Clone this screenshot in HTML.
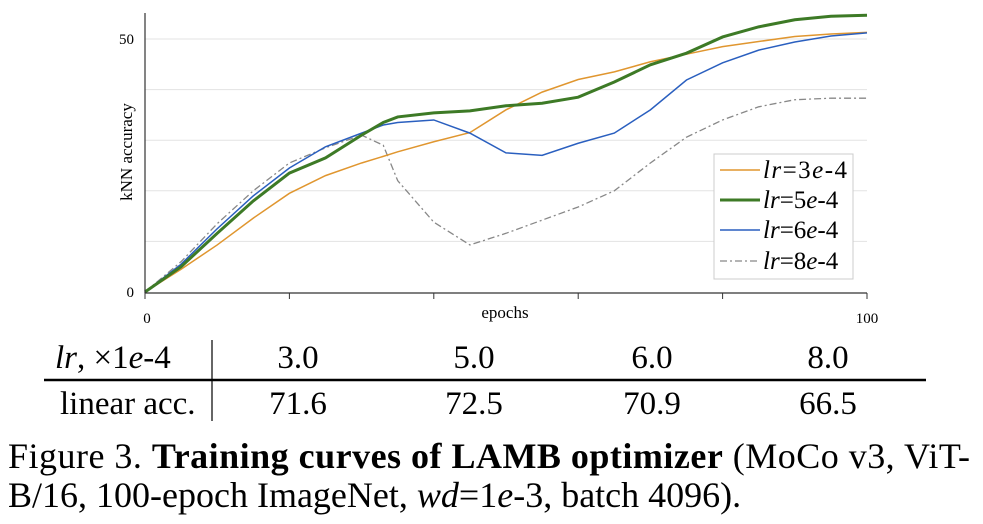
<!DOCTYPE html>
<html><head><meta charset="utf-8"><style>
body{margin:0;background:#fff;width:983px;height:524px;overflow:hidden;font-family:"Liberation Serif",serif}
svg{position:absolute;left:0;top:0}
</style></head><body>
<svg width="983" height="524">
<g id="grid"></g>
<g id="series"></g>
<line x1="145" y1="13" x2="145" y2="293" stroke="#333" stroke-width="1.2"/>
<line x1="145" y1="293" x2="867" y2="293" stroke="#333" stroke-width="1.2"/>
<g id="ticks"></g>
<text x="505" y="318" font-size="17" text-anchor="middle">epochs</text>
<text transform="translate(132,152) rotate(-90)" font-size="17" text-anchor="middle">kNN accuracy</text>
<g>
<rect x="714" y="154" width="139" height="125" fill="#fff" stroke="#ccc"/>
<g><line x1="720" y1="170" x2="760" y2="170" stroke="#e0962f" stroke-width="1.5"/><text x="763" y="178" font-size="25" textLength="84"><tspan font-style="italic">lr</tspan>=3<tspan font-style="italic">e</tspan>-4</text></g>
<g><line x1="720" y1="200" x2="760" y2="200" stroke="#3d7a26" stroke-width="3"/><text x="763" y="208" font-size="25"><tspan font-style="italic">lr</tspan>=5<tspan font-style="italic">e</tspan>-4</text></g>
<g><line x1="720" y1="230" x2="760" y2="230" stroke="#2a5fbf" stroke-width="1.5"/><text x="763" y="238" font-size="25"><tspan font-style="italic">lr</tspan>=6<tspan font-style="italic">e</tspan>-4</text></g>
<g><line x1="720" y1="261" x2="760" y2="261" stroke="#888" stroke-width="1.3" stroke-dasharray="7,3,2,3"/><text x="763" y="269" font-size="25"><tspan font-style="italic">lr</tspan>=8<tspan font-style="italic">e</tspan>-4</text></g>
</g>
<g font-size="33">
<text x="55" y="368"><tspan font-style="italic">lr</tspan>, ×1<tspan font-style="italic">e</tspan>-4</text>
<text x="298" y="368" text-anchor="middle">3.0</text>
<text x="474" y="368" text-anchor="middle">5.0</text>
<text x="652" y="368" text-anchor="middle">6.0</text>
<text x="828" y="368" text-anchor="middle">8.0</text>
<line x1="44" y1="380" x2="926" y2="380" stroke="#000" stroke-width="2.5"/>
<line x1="212" y1="340" x2="212" y2="421" stroke="#000" stroke-width="1.2"/>
<text x="60" y="414">linear acc.</text>
<text x="298" y="414" text-anchor="middle">71.6</text>
<text x="474" y="414" text-anchor="middle">72.5</text>
<text x="652" y="414" text-anchor="middle">70.9</text>
<text x="828" y="414" text-anchor="middle">66.5</text>
</g>
<g font-size="36">
<text x="8" y="468" textLength="962" lengthAdjust="spacing">Figure 3.  <tspan font-weight="bold">Training curves of LAMB optimizer</tspan> (MoCo v3, ViT-</text>
<text x="8" y="507">B/16, 100-epoch ImageNet, <tspan font-style="italic">wd</tspan>=1<tspan font-style="italic">e</tspan>-3, batch 4096).</text>
</g>
</svg>
<script>
const epochs=[0,5,10,15,20,25,30,33,35,40,45,50,55,60,65,70,75,80,85,90,95,100];
const lr3=[0,4.5,9.3,14.6,19.5,23,25.5,26.8,27.7,29.7,31.5,36,39.5,42,43.5,45.5,47,48.5,49.5,50.5,51,51.3];
const lr5=[0,5,11.6,18,23.5,26.5,31,33.5,34.6,35.4,35.8,36.8,37.3,38.5,41.5,44.9,47.2,50.4,52.4,53.8,54.5,54.7];
const lr6=[0,5.5,12.5,19,24.5,28.7,31.4,33,33.5,34,31.4,27.5,27,29.4,31.4,36,41.9,45.3,47.8,49.4,50.6,51.2];
const lr8=[0,6,13.5,20,25.5,28.5,31,29,22,13.8,9.3,11.6,14.2,16.8,20,25.5,30.6,34,36.6,38,38.3,38.3];
const yTicks=[0,10,20,30,40,50];
const xTicks=[0,20,40,60,80,100];
const X=e=>145+e*7.22, Y=v=>292-v*5.06;
const NS="http://www.w3.org/2000/svg";
const grid=document.getElementById('grid'),ticks=document.getElementById('ticks'),ser=document.getElementById('series');
yTicks.forEach(t=>{if(t>0){const l=document.createElementNS(NS,'line');
l.setAttribute('x1',145);l.setAttribute('x2',867);l.setAttribute('y1',Y(t));l.setAttribute('y2',Y(t));l.setAttribute('stroke','#e3e3e3');


grid.appendChild(l);}
if(t===0||t===50){const tx=document.createElementNS(NS,'text');tx.setAttribute('x',134);tx.setAttribute('y',Y(t)+5);tx.setAttribute('text-anchor','end');tx.setAttribute('font-size','15');tx.textContent=t;


ticks.appendChild(tx);}});
xTicks.forEach(t=>{const l=document.createElementNS(NS,'line');l.setAttribute('x1',X(t));l.setAttribute('x2',X(t));l.setAttribute('y1',293);l.setAttribute('y2',299);l.setAttribute('stroke','#333');


ticks.appendChild(l);
if(t===0||t===100){const tx=document.createElementNS(NS,'text');tx.setAttribute('x',X(t)+(t?0:2));tx.setAttribute('y',323);tx.setAttribute('text-anchor','middle');tx.setAttribute('font-size','15');tx.textContent=t;


ticks.appendChild(tx);}});
function line(vals,color,w,dash,name){const p=document.createElementNS(NS,'polyline');
p.setAttribute('points',vals.map((v,i)=>X(epochs[i])+','+Y(v)).join(' '));
p.setAttribute('fill','none');p.setAttribute('stroke',color);p.setAttribute('stroke-width',w);if(dash)p.setAttribute('stroke-dasharray',dash);


ser.appendChild(p);}
line(lr8,'#888',1.3,'7,3,2,3','line-lr-8e-4');
line(lr3,'#e0962f',1.5,null,'line-lr-3e-4');
line(lr6,'#2a5fbf',1.5,null,'line-lr-6e-4');
line(lr5,'#3d7a26',3,null,'line-lr-5e-4');
</script>
</body></html>
